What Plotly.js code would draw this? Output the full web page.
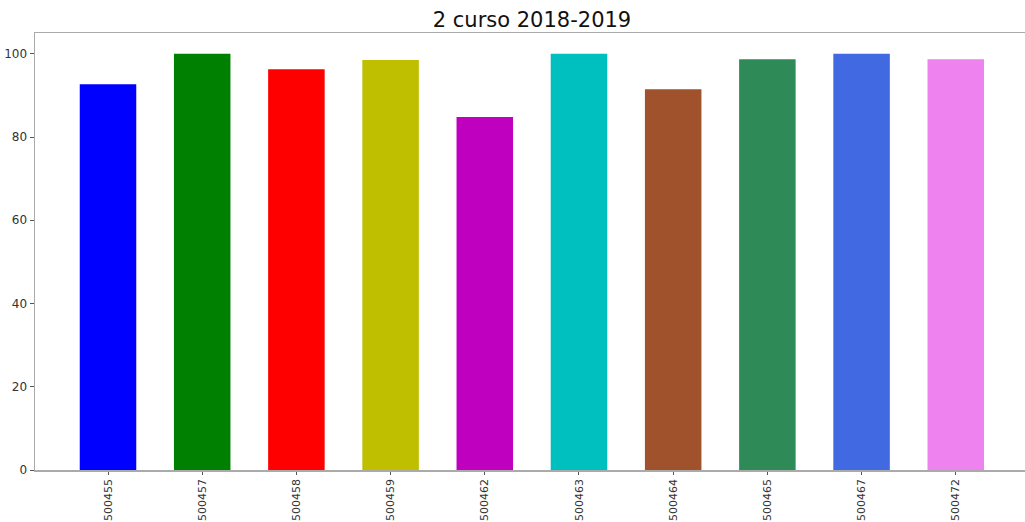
<!DOCTYPE html>
<html>
<head>
<meta charset="utf-8">
<script src="https://cdn.plot.ly/plotly-3.0.1.min.js"></script>
<style>html,body{margin:0;padding:0;background:#fff;}#chart{width:1025px;height:522px;}</style>
</head>
<body>
<div id="chart"></div>
<script>
const categories = ["500455","500457","500458","500459","500462","500463","500464","500465","500467","500472"];
const values = [92.7, 100, 96.3, 98.5, 84.8, 100, 91.5, 98.7, 100, 98.7];
const colors = ["#0000ff","#008000","#ff0000","#bfbf00","#bf00bf","#00bfbf","#a0522d","#2e8b57","#4169e1","#ee82ee"];
const titleText = "2 curso 2018-2019";

const positions = categories.map((c, i) => i);

const trace = {
  type: "bar",
  x: positions,
  y: values,
  width: 0.6,
  marker: { color: colors, line: { width: 0 } },
  hoverinfo: "skip"
};

const layout = {
  width: 1025,
  height: 522,
  margin: { l: 35, r: 0, t: 33, b: 52 },
  paper_bgcolor: "#ffffff",
  plot_bgcolor: "#ffffff",
  showlegend: false,
  font: { family: "DejaVu Sans", color: "#333333", size: 12 },
  title: {
    text: titleText,
    font: { family: "DejaVu Sans", size: 21, color: "#111111" },
    x: 532 / 1025, xanchor: "center", xref: "container",
    y: 0.962, yanchor: "middle"
  },
  xaxis: {
    range: [-0.775, 9.735],
    tickmode: "array",
    tickvals: positions,
    ticktext: categories,
    tickangle: -90,
    ticks: "outside",
    ticklen: 3,
    tickcolor: "#555555",
    showgrid: false,
    zeroline: false,
    showline: true,
    linecolor: "#aaaaaa",
    linewidth: 1.5,
    mirror: true,
    fixedrange: true,
    tickfont: { family: "DejaVu Sans", size: 11, color: "#333333" }
  },
  yaxis: {
    range: [0, 105],
    tickvals: [0, 20, 40, 60, 80, 100],
    ticks: "outside",
    ticklen: 4,
    tickcolor: "#555555",
    showgrid: false,
    zeroline: false,
    showline: true,
    linecolor: "#aaaaaa",
    linewidth: 1.5,
    mirror: true,
    fixedrange: true,
    tickfont: { family: "DejaVu Sans", size: 12, color: "#333333" }
  }
};

Plotly.newPlot("chart", [trace], layout, { displayModeBar: false, staticPlot: true });
</script>
</body>
</html>
